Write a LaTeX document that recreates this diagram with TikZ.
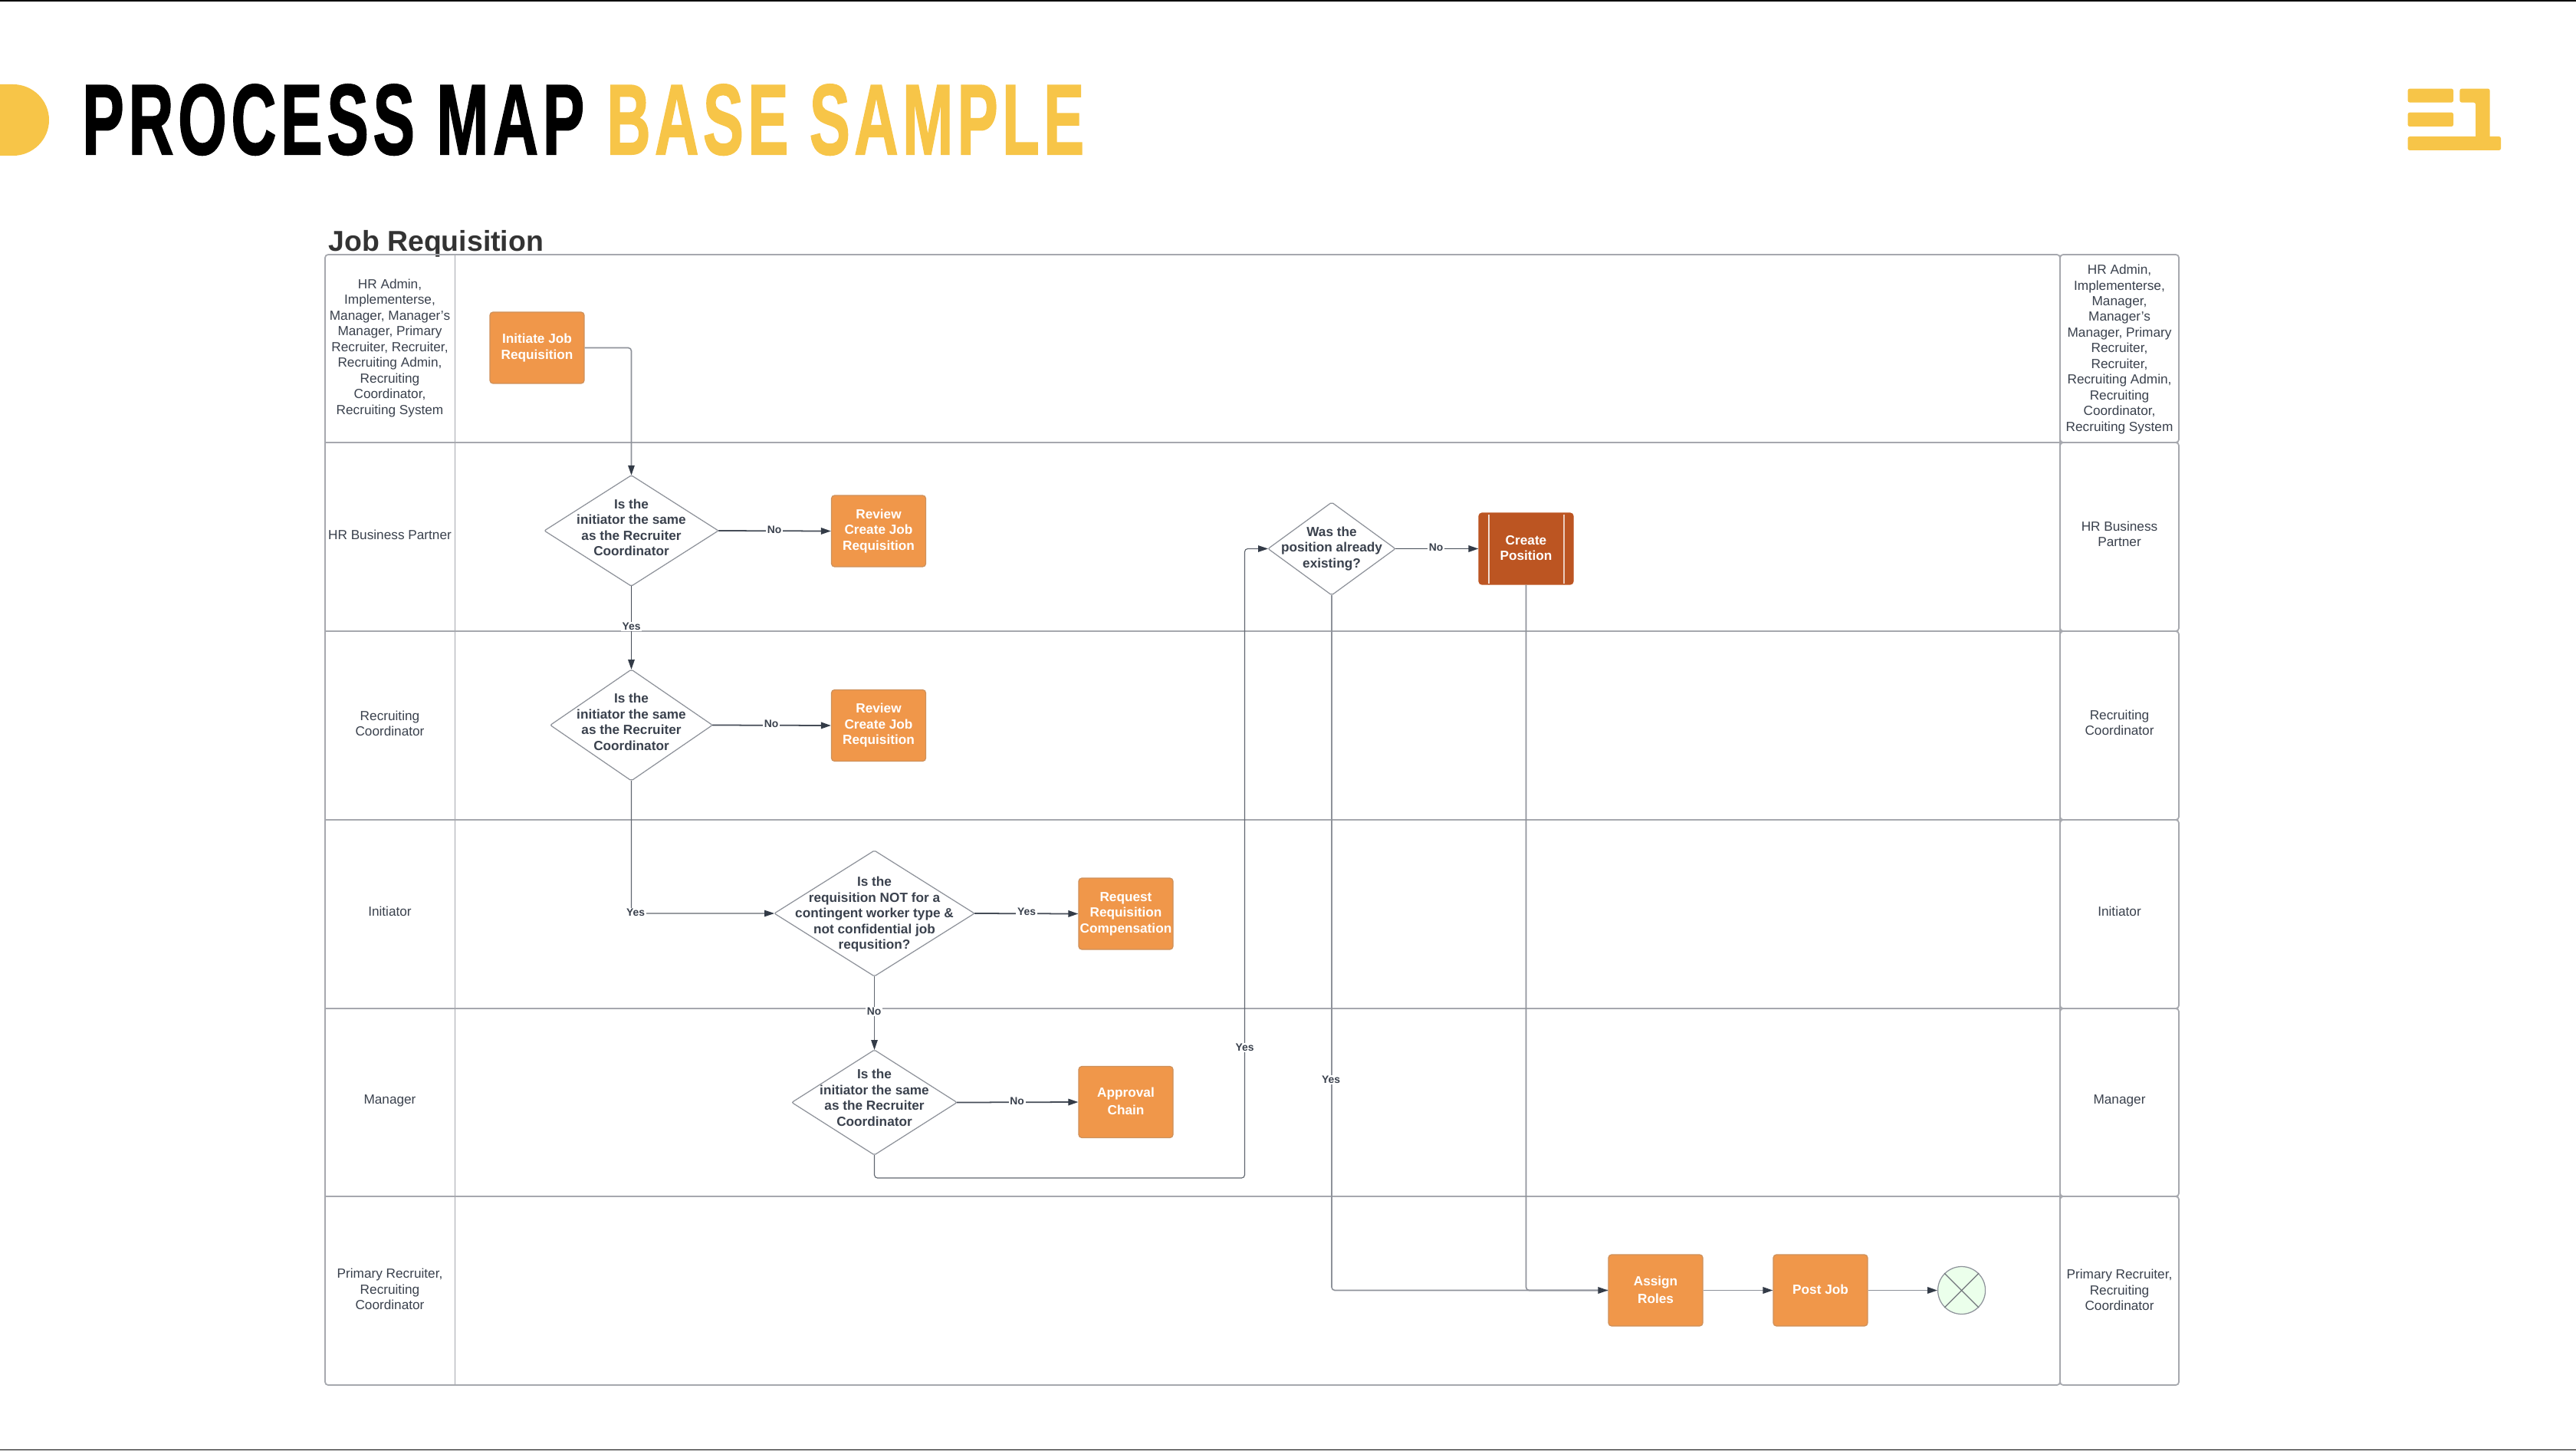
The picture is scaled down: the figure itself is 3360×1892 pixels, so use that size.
\documentclass[tikz,border=0pt]{standalone}
\usepackage{fontspec}
\usepackage{graphicx}
\setmainfont{Liberation Sans}
\newfontfamily\titlefont[FakeBold=1.6,LetterSpace=7]{Liberation Sans Bold}
\usetikzlibrary{shapes.geometric,arrows.meta}
\definecolor{accent}{HTML}{F7C548}
\definecolor{orangebox}{HTML}{F0974A}
\definecolor{rustbox}{HTML}{BC5522}
\definecolor{lanegrey}{HTML}{A6A8AE}
\definecolor{inktext}{HTML}{3A414D}
\definecolor{flowdark}{HTML}{454C57}
\definecolor{flowlight}{HTML}{8E929A}
\definecolor{tipdark}{HTML}{333B47}
\tikzset{
  lane/.style={draw=lanegrey,line width=1pt},
  lanetext/.style={align=center,text=inktext,font=\fontsize{9.8pt}{11.66pt}\selectfont,inner sep=0pt},
  procbox/.style={rectangle,rounded corners=.08cm,fill=orangebox,draw=orangebox!70!gray,line width=.7pt,
    minimum width=2.46cm,minimum height=1.86cm,inner sep=0pt,align=center,text=white,
    font=\fontsize{9.8pt}{11.66pt}\selectfont\bfseries},
  dia/.style={diamond,aspect=1,inner sep=0pt,outer sep=0pt,fill=white,draw=flowlight,line width=.7pt,rounded corners=.04cm},
  diatext/.style={align=center,text=inktext,inner sep=0pt,font=\fontsize{9.8pt}{11.66pt}\selectfont\bfseries},
  flowd/.style={draw=flowdark,line width=1pt,-{Triangle[length=.26cm,width=.17cm,color=tipdark]}},
  flowl/.style={draw=flowlight,line width=.9pt,rounded corners=.08cm,-{Triangle[length=.26cm,width=.17cm,color=tipdark]}},
  flowm/.style={draw=flowdark!85!white,line width=.65pt,rounded corners=.08cm,-{Triangle[length=.26cm,width=.17cm,color=tipdark]}},
  plainflow/.style={draw=flowlight,line width=.9pt,rounded corners=.08cm},
  edgetext/.style={fill=white,inner xsep=1pt,inner ysep=.5pt,text=inktext,font=\fontsize{7.9pt}{9pt}\selectfont\bfseries},
}
\begin{document}
\begin{tikzpicture}[x=0.02cm,y=-0.02cm]
\useasboundingbox (0,0) rectangle (3360,1892);
\fill[white] (0,0) rectangle (3360,1892);
% page rules
\draw[black,line width=1.1pt] (0,1) -- (3360,1);
\draw[black,line width=1.1pt] (0,1890.5) -- (3360,1890.5);
% title
\fill[accent] (0,110) -- (17,110) .. controls (43,110) and (64,131) .. (64,156.5) .. controls (64,182) and (43,203) .. (17,203) -- (0,203) -- cycle;
\node[anchor=base west,inner sep=0pt,text=black] (title1) at (107,201) {\resizebox{13.1cm}{1.82cm}{\titlefont PROCESS MAP}};
\node[anchor=base west,inner sep=0pt,text=accent] (title2) at (791,201) {\resizebox{12.46cm}{1.82cm}{\titlefont BASE SAMPLE}};
% logo
\fill[accent,rounded corners=.05cm] (3140.6,115.6) rectangle (3200,133.6);
\fill[accent,rounded corners=.05cm] (3140.6,146.6) rectangle (3200,165);
\fill[accent,rounded corners=.05cm] (3140.6,178) rectangle (3262,196);
\fill[accent,rounded corners=.05cm] (3208.4,115.6) -- (3247.6,115.6) -- (3247.6,185) -- (3229,185) -- (3229,133.6) -- (3208.4,133.6) -- cycle;
% heading
\node[anchor=base west,inner sep=0pt,text=black!80,font=\fontsize{21.3pt}{24pt}\selectfont\bfseries] (heading) at (428,327.7) {Job Requisition};
% swimlanes
\draw[lane,rounded corners=.08cm] (424,332) rectangle (2687,1806);
\draw[lane] (593.5,332) -- (593.5,1806);
\foreach \yy in {577,823,1069,1315,1560} \draw[lane] (424,\yy) -- (2687,\yy);
\foreach \ya/\yb in {332/577,577/823,823/1069,1069/1315,1315/1560,1560/1806}
  \draw[lane,rounded corners=.08cm] (2687,\ya) rectangle (2842,\yb);
% lane labels left
\node[lanetext] (l1) at (508.5,454) {HR Admin,\\Implementerse,\\Manager, Manager's\\Manager, Primary\\Recruiter, Recruiter,\\Recruiting Admin,\\Recruiting\\Coordinator,\\Recruiting System};
\node[lanetext] (l2) at (508.5,697.5) {HR Business Partner};
\node[lanetext] (l3) at (508.5,943.5) {Recruiting\\Coordinator};
\node[lanetext] (l4) at (508.5,1188.5) {Initiator};
\node[lanetext] (l5) at (508.5,1435.5) {Manager};
\node[lanetext] (l6) at (508.5,1681) {Primary Recruiter,\\Recruiting\\Coordinator};
% lane labels right
\node[lanetext] (r1) at (2764.5,455.5) {HR Admin,\\Implementerse,\\Manager,\\Manager's\\Manager, Primary\\Recruiter,\\Recruiter,\\Recruiting Admin,\\Recruiting\\Coordinator,\\Recruiting System};
\node[lanetext] (r2) at (2764.5,696.5) {HR Business\\Partner};
\node[lanetext] (r3) at (2764.5,942.5) {Recruiting\\Coordinator};
\node[lanetext] (r4) at (2764.5,1188.5) {Initiator};
\node[lanetext] (r5) at (2764.5,1435.5) {Manager};
\node[lanetext] (r6) at (2764.5,1682) {Primary Recruiter,\\Recruiting\\Coordinator};
% process boxes
\node[procbox] (init) at (700.5,453.5) {Initiate Job\\Requisition};
\node[procbox] (rev1) at (1146,692.5) {Review\\Create Job\\Requisition};
\node[procbox] (rev2) at (1146,946) {Review\\Create Job\\Requisition};
\node[procbox] (req) at (1468.5,1191.5) {Request\\Requisition\\Compensation};
\node[procbox,text depth=0pt] (appr) at (1468.5,1437) {\raisebox{1.2pt}{\shortstack[c]{Approval\\[1pt]Chain}}};
\node[procbox,fill=rustbox,draw=rustbox] (cp) at (1990.5,715.5) {\raisebox{1.2pt}{\shortstack[c]{Create\\[1pt]Position}}};
\draw[white!80!rustbox,line width=.8pt] (1942,670.5) -- (1942,760.5);
\draw[white!70!rustbox,line width=.8pt] (2040,670.5) -- (2040,760.5);
\node[procbox] (assign) at (2159.5,1682.5) {\raisebox{1.2pt}{\shortstack[c]{Assign\\[1pt]Roles}}};
\node[procbox] (post) at (2374.5,1682.5) {\raisebox{1.2pt}{Post Job}};
% decisions
\node[dia,minimum width=4.54cm,minimum height=2.89cm,label={[diatext,yshift=.08cm]center:{Is the\\initiator the same\\as the Recruiter\\Coordinator}}] (d1) at (823.5,692) {};
\node[dia,minimum width=4.23cm,minimum height=2.90cm,label={[diatext,yshift=.08cm]center:{Is the\\initiator the same\\as the Recruiter\\Coordinator}}] (d2) at (823.5,945.5) {};
\node[dia,minimum width=5.22cm,minimum height=3.28cm,label={[diatext,yshift=-.03cm]center:{Is the\\requisition NOT for a\\contingent worker type \&\\not confidential job\\requsition?}}] (d3) at (1140.5,1191) {};
\node[dia,minimum width=4.31cm,minimum height=2.74cm,label={[diatext,yshift=.12cm]center:{Is the\\initiator the same\\as the Recruiter\\Coordinator}}] (d4) at (1140.5,1437.5) {};
\node[dia,minimum width=3.32cm,minimum height=2.42cm,label={[diatext]center:{Was the\\position already\\existing?}}] (d5) at (1737,715.5) {};
% end event
\node[circle,minimum size=1.24cm,inner sep=0pt,fill=green!8!white,draw=flowlight,line width=.7pt] (endev) at (2558.6,1682.5) {};
\draw[flowlight!80!black,line width=.7pt] (endev.north west) -- (endev.south east);
\draw[flowlight!80!black,line width=.7pt] (endev.north east) -- (endev.south west);
% connectors
\coordinate (bend) at (1623.5,1536);
\draw[flowl] (init.east) -| (d1.north);
\draw[flowd] (d1.east) -- (rev1.west);
\draw[flowd] (d1.south) -- (d2.north);
\draw[flowd] (d2.east) -- (rev2.west);
\draw[flowm] (d2.south) |- (d3.west);
\draw[flowd] (d3.east) -- (req.west);
\draw[flowm] (d3.south) -- (d4.north);
\draw[flowd] (d4.east) -- (appr.west);
\draw[flowm] (d4.south) |- (bend) |- (d5.west);
\draw[flowd] (d5.east) -- (cp.west);
\draw[plainflow] (cp.south) |- (assign.west);
\draw[flowl] (d5.south) |- (assign.west);
\draw[flowl] (assign.east) -- (post.west);
\draw[flowl] (post.east) -- (endev.west);
% connector labels
\node[edgetext] (e1) at (823.5,817) {Yes};
\node[edgetext] (e2) at (1010,690.5) {No};
\node[edgetext] (e3) at (1006,943.5) {No};
\node[edgetext] (e4) at (829,1190) {Yes};
\node[edgetext] (e5) at (1339,1189) {Yes};
\node[edgetext] (e6) at (1140,1319) {No};
\node[edgetext] (e7) at (1326.5,1436) {No};
\node[edgetext] (e8) at (1623.5,1366) {Yes};
\node[edgetext] (e9) at (1736,1408) {Yes};
\node[edgetext] (e10) at (1873,714) {No};
\end{tikzpicture}
\end{document}
